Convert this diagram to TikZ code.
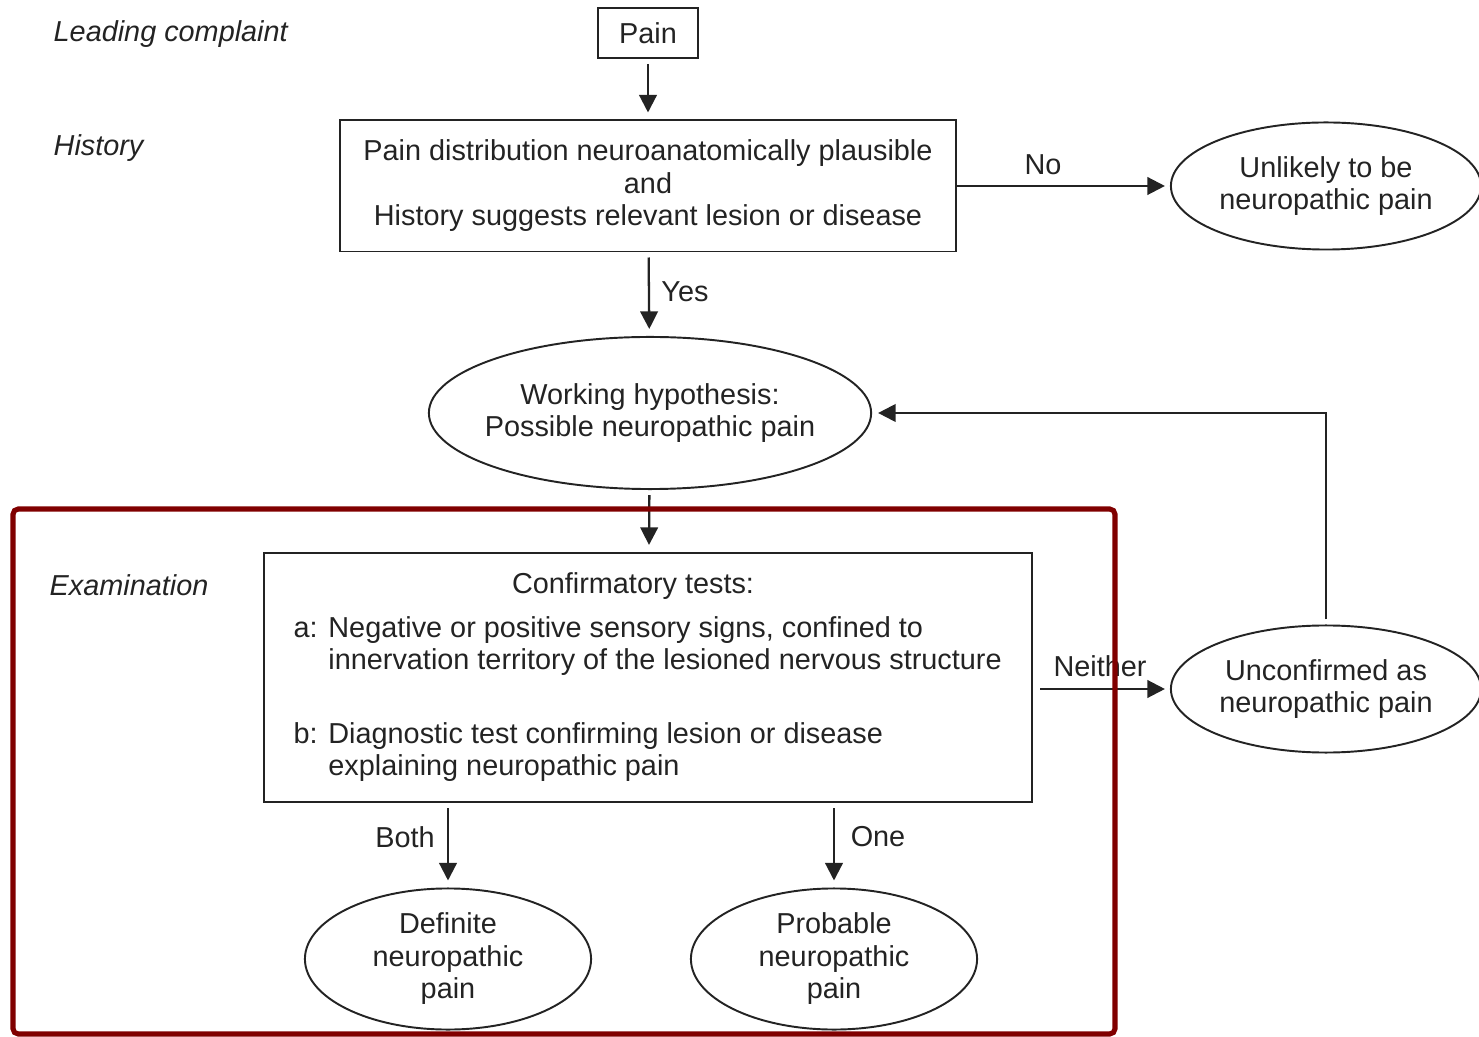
\documentclass[tikz,border=0pt]{standalone}
\usepackage{fontspec}
\setmainfont{Liberation Sans}
\usepackage{tikz}
\usetikzlibrary{positioning,calc,arrows.meta,shapes.geometric}
\definecolor{ink}{RGB}{35,35,35}
\definecolor{frame}{RGB}{128,0,0}

\begin{document}
\begin{tikzpicture}[x=0.01cm,y=-0.01cm,font=\fontsize{8.2}{9.25}\selectfont,color=ink]
  % canvas: 1479 x 1037 px, y downwards
  \useasboundingbox (0,0) rectangle (1479,1037);
  \tikzset{box/.style={draw=ink,line width=0.55pt,inner sep=0pt,align=center},
           oval/.style={draw=ink,line width=0.55pt,ellipse,inner sep=0pt,align=center},
           stage/.style={anchor=west,inner sep=0pt,font=\fontsize{8.2}{9.25}\selectfont\itshape},
           arr/.style={draw=ink,line width=0.65pt,-{Triangle[length=5pt,width=5pt]},
                       shorten <=0.05cm,shorten >=0.07cm},
           harr/.style={arr,shorten <=0pt,shorten >=0.05cm}}
  % stage labels
  \node[stage] (lead) at (53,34)  {Leading complaint};
  \node[stage] (hist) at (53,148) {History};
  \node[stage] (exam) at (49,585) {Examination};
  % main column
  \node[box,minimum width=1cm,minimum height=0.5cm] (pain) at (648,33) {Pain};
  \node[box,minimum width=6.16cm,minimum height=1.31cm] (plaus) at (648,186)
     {Pain distribution neuroanatomically plausible\\and\\History suggests relevant lesion or disease};
  \node[oval,inner xsep=-0.15cm,minimum width=4.42cm,minimum height=1.52cm] (work) at (650,413)
     {Working hypothesis:\\Possible neuropathic pain};
  \node[box,minimum width=7.68cm,minimum height=2.49cm] (conf) at (648,677.5) {};
  \node (ctitle) at (633,586) {Confirmatory tests:};
  \node[anchor=base west,inner sep=0pt] (ca) at (293,637)
     {\begin{tabular}[t]{@{}l@{ }l@{}}a:&Negative or positive sensory signs, confined to\\
                                     &innervation territory of the lesioned nervous structure\end{tabular}};
  \node[anchor=base west,inner sep=0pt] (cb) at (293,743)
     {\begin{tabular}[t]{@{}l@{ }l@{}}b:&Diagnostic test confirming lesion or disease\\
                                     &explaining neuropathic pain\end{tabular}};
  % outcomes
  \node[oval,minimum width=3.1cm,minimum height=1.27cm] (unlik) at (1326,186)
     {Unlikely to be\\neuropathic pain};
  \node[oval,minimum width=3.1cm,minimum height=1.27cm] (uncon) at (1326,689)
     {Unconfirmed as\\neuropathic pain};
  \node[oval,minimum width=2.86cm,minimum height=1.41cm] (defin) at (448,959)
     {Definite\\neuropathic\\pain};
  \node[oval,minimum width=2.86cm,minimum height=1.41cm] (proba) at (834,959)
     {Probable\\neuropathic\\pain};
  % connectors
  \draw[arr] (pain) -- (plaus);
  \draw[arr] (plaus) -- (work);
  \draw[arr] (work) -- (conf);
  \draw[harr] (plaus.east) -- (unlik.west);
  \draw[harr,shorten <=0.07cm] (conf.east |- uncon.west) -- (uncon.west);
  \draw[arr,shorten >=0.06cm] (uncon.north) |- (work.east);
  \draw[arr] (conf.south -| defin) -- (defin);
  \draw[arr] (conf.south -| proba) -- (proba);
  % connector labels
  \node (no)      at (1043,165) {No};
  \node (yes)     at (685,292)  {Yes};
  \node (neither) at (1100,666) {Neither};
  \node (both)    at (405,837)  {Both};
  \node (one)     at (878,837)  {One};
  % highlight frame
  \draw[frame,line width=1.45pt,rounded corners=1.5pt] (13,509) rectangle (1115,1034);
\end{tikzpicture}
\end{document}
